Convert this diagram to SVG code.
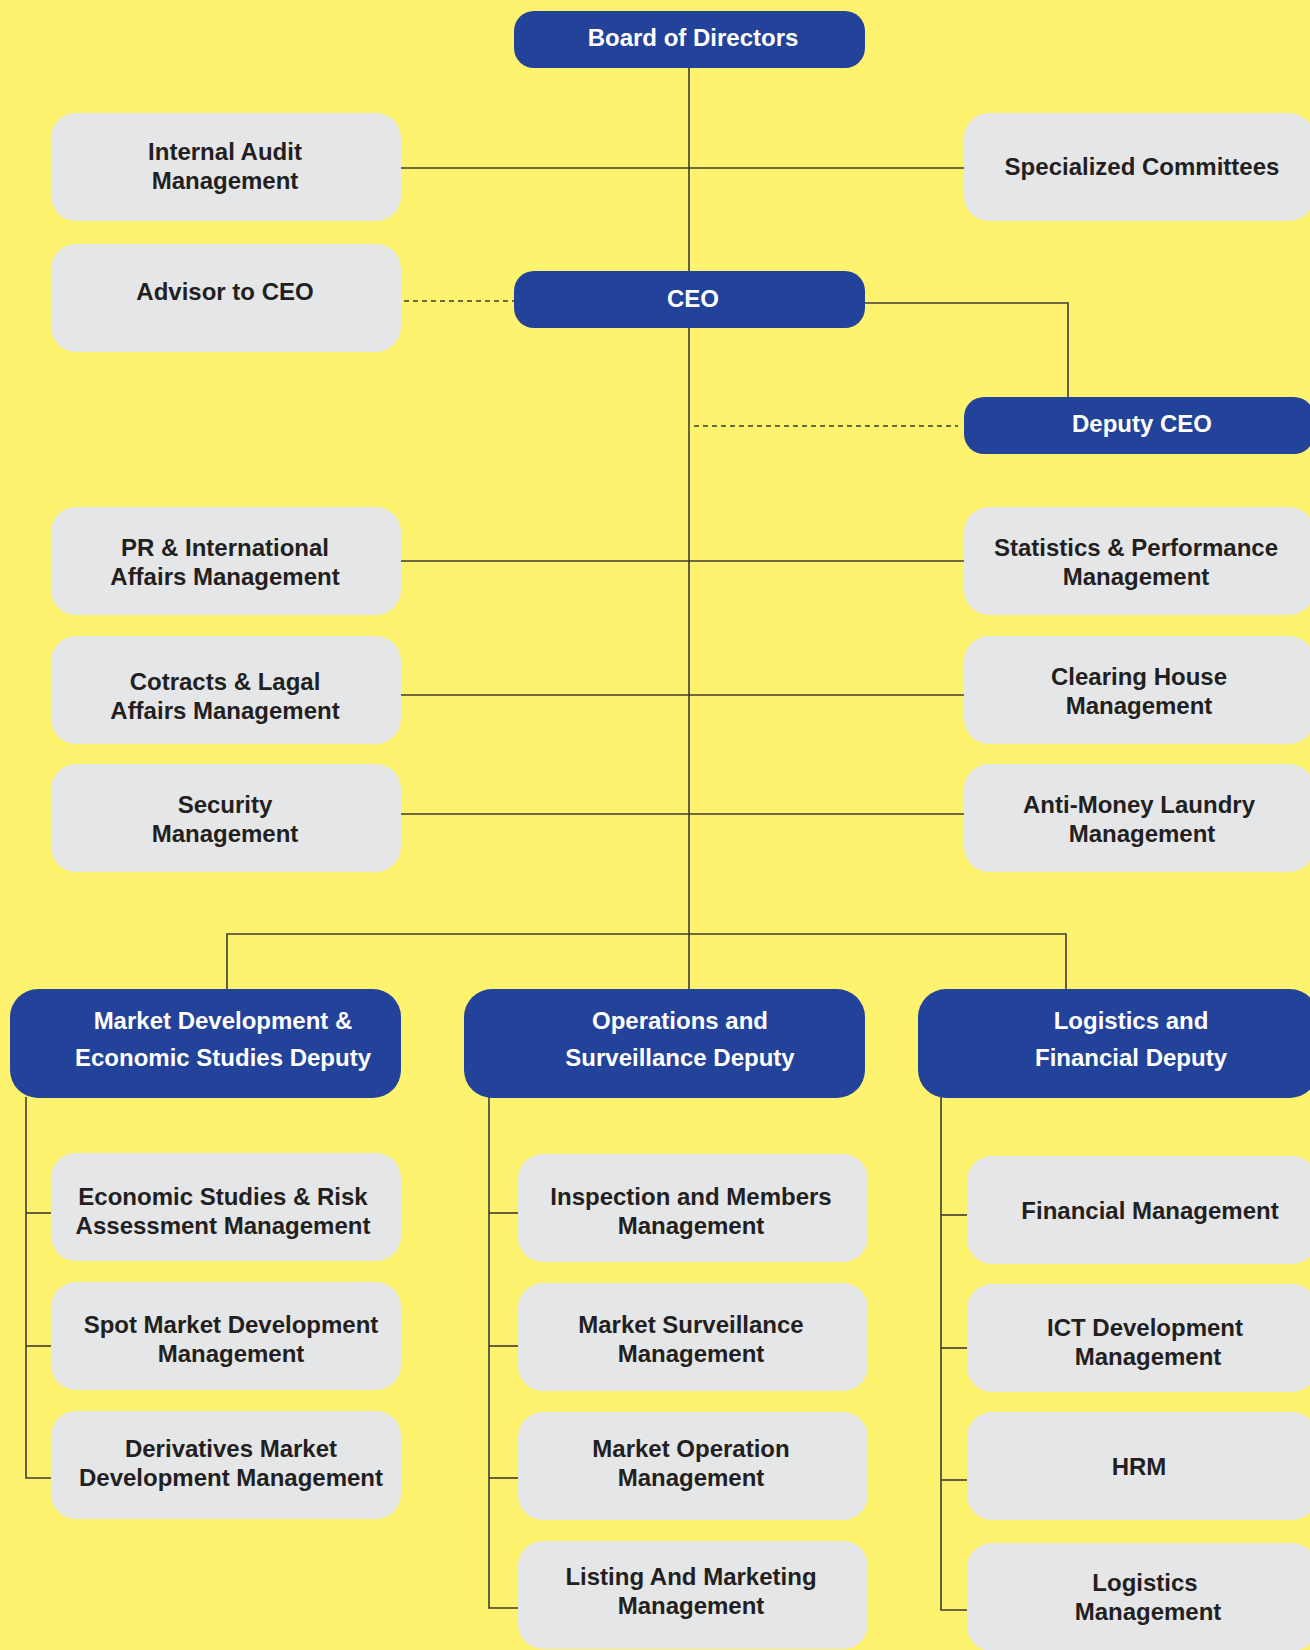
<svg xmlns="http://www.w3.org/2000/svg" width="1310" height="1650" viewBox="0 0 1310 1650">
<defs>
<style>
.bg{fill:#FEF36F}
.blue{fill:#23429A}
.gray{fill:#E5E6E8}
.tw{font-family:"Liberation Sans",Arial,sans-serif;font-weight:bold;font-size:24px;fill:#ffffff;text-anchor:middle}
.tb{font-family:"Liberation Sans",Arial,sans-serif;font-weight:bold;font-size:24px;fill:#231F20;text-anchor:middle}
.ln{stroke:#3F3D33;stroke-width:1.6;fill:none}
.dash{stroke:#3F3D33;stroke-width:1.6;fill:none;stroke-dasharray:5 4}
</style>
</defs>
<rect class="bg" x="0" y="0" width="1310" height="1650"/>

<g id="connectors">
<line class="ln" x1="689" y1="68" x2="689" y2="271"/>
<line class="ln" x1="401" y1="168" x2="964" y2="168"/>
<line class="dash" x1="404" y1="301" x2="514" y2="301"/>
<polyline class="ln" points="865,303 1068,303 1068,397"/>
<line class="ln" x1="689" y1="328" x2="689" y2="989"/>
<line class="dash" x1="694" y1="426" x2="958" y2="426"/>
<line class="ln" x1="401" y1="561" x2="964" y2="561"/>
<line class="ln" x1="401" y1="695" x2="964" y2="695"/>
<line class="ln" x1="401" y1="814" x2="964" y2="814"/>
<polyline class="ln" points="227,989 227,934 1066,934 1066,989"/>
<polyline class="ln" points="26,1097 26,1478 51,1478"/>
<line class="ln" x1="26" y1="1213" x2="51" y2="1213"/>
<line class="ln" x1="26" y1="1346" x2="51" y2="1346"/>
<polyline class="ln" points="489,1097 489,1608 518,1608"/>
<line class="ln" x1="489" y1="1213" x2="518" y2="1213"/>
<line class="ln" x1="489" y1="1346" x2="518" y2="1346"/>
<line class="ln" x1="489" y1="1478" x2="518" y2="1478"/>
<polyline class="ln" points="941,1097 941,1610 967,1610"/>
<line class="ln" x1="941" y1="1215" x2="967" y2="1215"/>
<line class="ln" x1="941" y1="1348" x2="967" y2="1348"/>
<line class="ln" x1="941" y1="1480" x2="967" y2="1480"/>
</g>

<g id="board">
<rect class="blue" x="514" y="11" width="351" height="57" rx="20"/>
<text class="tw" x="693" y="46">Board of Directors</text>
</g>
<g id="internal-audit">
<rect class="gray" x="51" y="113" width="350" height="108" rx="25"/>
<text class="tb" x="225" y="160">Internal Audit</text>
<text class="tb" x="225" y="189">Management</text>
</g>
<g id="specialized-committees">
<rect class="gray" x="964" y="113" width="350" height="108" rx="25"/>
<text class="tb" x="1142" y="175">Specialized Committees</text>
</g>
<g id="advisor">
<rect class="gray" x="51" y="244" width="350" height="108" rx="25"/>
<text class="tb" x="225" y="300">Advisor to CEO</text>
</g>
<g id="ceo">
<rect class="blue" x="514" y="271" width="351" height="57" rx="20"/>
<text class="tw" x="693" y="307">CEO</text>
</g>
<g id="deputy-ceo">
<rect class="blue" x="964" y="397" width="350" height="57" rx="20"/>
<text class="tw" x="1142" y="432">Deputy CEO</text>
</g>
<g id="pr">
<rect class="gray" x="51" y="507" width="350" height="108" rx="25"/>
<text class="tb" x="225" y="556">PR &amp; International</text>
<text class="tb" x="225" y="585">Affairs Management</text>
</g>
<g id="statistics">
<rect class="gray" x="964" y="507" width="350" height="108" rx="25"/>
<text class="tb" x="1136" y="556">Statistics &amp; Performance</text>
<text class="tb" x="1136" y="585">Management</text>
</g>
<g id="contracts">
<rect class="gray" x="51" y="636" width="350" height="108" rx="25"/>
<text class="tb" x="225" y="690">Cotracts &amp; Lagal</text>
<text class="tb" x="225" y="719">Affairs Management</text>
</g>
<g id="clearing">
<rect class="gray" x="964" y="636" width="350" height="108" rx="25"/>
<text class="tb" x="1139" y="685">Clearing House</text>
<text class="tb" x="1139" y="714">Management</text>
</g>
<g id="security">
<rect class="gray" x="51" y="764" width="350" height="108" rx="25"/>
<text class="tb" x="225" y="813">Security</text>
<text class="tb" x="225" y="842">Management</text>
</g>
<g id="aml">
<rect class="gray" x="964" y="764" width="350" height="108" rx="25"/>
<text class="tb" x="1139" y="813">Anti-Money Laundry</text>
<text class="tb" x="1142" y="842">Management</text>
</g>
<g id="market-dev-deputy">
<rect class="blue" x="10" y="989" width="391" height="109" rx="28"/>
<text class="tw" x="223" y="1029">Market Development &amp;</text>
<text class="tw" x="223" y="1066">Economic Studies Deputy</text>
</g>
<g id="operations-deputy">
<rect class="blue" x="464" y="989" width="401" height="109" rx="28"/>
<text class="tw" x="680" y="1029">Operations and</text>
<text class="tw" x="680" y="1066">Surveillance Deputy</text>
</g>
<g id="logistics-deputy">
<rect class="blue" x="918" y="989" width="400" height="109" rx="28"/>
<text class="tw" x="1131" y="1029">Logistics and</text>
<text class="tw" x="1131" y="1066">Financial Deputy</text>
</g>
<g id="economic-studies">
<rect class="gray" x="51" y="1153" width="350" height="108" rx="25"/>
<text class="tb" x="223" y="1205">Economic Studies &amp; Risk</text>
<text class="tb" x="223" y="1234">Assessment Management</text>
</g>
<g id="spot-market">
<rect class="gray" x="51" y="1282" width="350" height="108" rx="25"/>
<text class="tb" x="231" y="1333">Spot Market Development</text>
<text class="tb" x="231" y="1362">Management</text>
</g>
<g id="derivatives-market">
<rect class="gray" x="51" y="1411" width="350" height="108" rx="25"/>
<text class="tb" x="231" y="1457">Derivatives Market</text>
<text class="tb" x="231" y="1486">Development Management</text>
</g>
<g id="inspection">
<rect class="gray" x="518" y="1154" width="350" height="108" rx="25"/>
<text class="tb" x="691" y="1205">Inspection and Members</text>
<text class="tb" x="691" y="1234">Management</text>
</g>
<g id="market-surveillance">
<rect class="gray" x="518" y="1283" width="350" height="108" rx="25"/>
<text class="tb" x="691" y="1333">Market Surveillance</text>
<text class="tb" x="691" y="1362">Management</text>
</g>
<g id="market-operation">
<rect class="gray" x="518" y="1412" width="350" height="108" rx="25"/>
<text class="tb" x="691" y="1457">Market Operation</text>
<text class="tb" x="691" y="1486">Management</text>
</g>
<g id="listing-marketing">
<rect class="gray" x="518" y="1541" width="350" height="108" rx="25"/>
<text class="tb" x="691" y="1585">Listing And Marketing</text>
<text class="tb" x="691" y="1614">Management</text>
</g>
<g id="financial-management">
<rect class="gray" x="967" y="1156" width="350" height="108" rx="25"/>
<text class="tb" x="1150" y="1219">Financial Management</text>
</g>
<g id="ict-development">
<rect class="gray" x="967" y="1284" width="350" height="108" rx="25"/>
<text class="tb" x="1145" y="1336">ICT Development</text>
<text class="tb" x="1148" y="1365">Management</text>
</g>
<g id="hrm">
<rect class="gray" x="967" y="1412" width="350" height="108" rx="25"/>
<text class="tb" x="1139" y="1475">HRM</text>
</g>
<g id="logistics-management">
<rect class="gray" x="967" y="1543" width="350" height="108" rx="25"/>
<text class="tb" x="1145" y="1591">Logistics</text>
<text class="tb" x="1148" y="1620">Management</text>
</g>
</svg>
